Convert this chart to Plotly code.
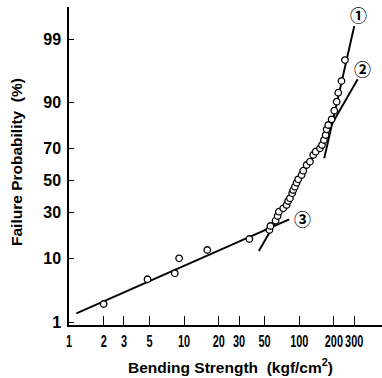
import math
from statistics import NormalDist
import plotly.graph_objects as go

# Data (bending strength in kgf/cm2, failure probability in %)
strength = [2.0, 4.81, 8.30, 9.05, 15.9, 36.9,
            55.1, 56.2, 62.3, 64.9, 66.6, 72.6, 77.7, 80.2, 83.0, 86.9,
            88.7, 91.7, 94.9, 98.0, 105.0, 108.3, 116.0, 123.9, 132.3, 138.9,
            151.4, 157.6, 164.0, 169.6, 173.1, 178.7, 191.3, 201.5, 211.5, 218.4,
            232.8, 249.7]
failure_pct = [2.12, 5.23, 6.37, 10.06, 12.69, 16.84,
               20.83, 22.76, 25.48, 28.02, 30.45, 32.43, 34.41, 36.86, 38.55, 41.73,
               43.86, 46.0, 48.62, 50.85, 53.67, 56.47, 60.13, 62.2, 66.31, 68.27,
               70.24, 72.09, 74.79, 77.34, 80.06, 81.98, 84.33, 87.49, 90.28, 92.59,
               94.93, 97.63]

line1_x = [165.0, 300.8]
line1_y = [64.3, 99.45]
line2_x = [44.6, 321.9]
line2_y = [12.34, 95.21]
line3_x = [1.16, 81.9]
line3_y = [1.45, 26.2]

label_text = ["①", "②", "③"]
label_x = [328.6, 351.0, 107.1]
label_y = [99.69, 96.76, 26.76]

x_ticks = [1, 2, 3, 5, 10, 20, 30, 50, 100, 200, 300]
y_ticks = [1, 10, 30, 50, 70, 90, 99]

nd = NormalDist()


def prob(p_list):
    return [nd.inv_cdf(p / 100.0) for p in p_list]


fig = go.Figure()
for lx, ly in [(line1_x, line1_y), (line2_x, line2_y), (line3_x, line3_y)]:
    fig.add_trace(go.Scatter(x=lx, y=prob(ly), mode="lines",
                             line=dict(color="black", width=1.9),
                             showlegend=False, hoverinfo="skip"))

fig.add_trace(go.Scatter(x=strength, y=prob(failure_pct), mode="markers",
                         marker=dict(symbol="circle", size=6.5, color="white",
                                     line=dict(color="black", width=1.3)),
                         showlegend=False))

for t, lx, ly in zip(label_text, label_x, label_y):
    fig.add_annotation(x=math.log10(lx), y=nd.inv_cdf(ly / 100.0), text=t,
                       showarrow=False, xref="x", yref="y",
                       font=dict(family="Noto Sans CJK JP", size=17, color="black",
                                 weight="bold"))

fam = "Liberation Sans, Arial"

fig.update_xaxes(type="log", range=[0, 2.719], automargin=False, tickangle=0,
                 tickvals=x_ticks, ticktext=[str(v) for v in x_ticks],
                 ticks="inside", ticklen=9, tickwidth=1.2, tickcolor="black",
                 showline=True, linecolor="black", linewidth=1.5,
                 showgrid=False, zeroline=False, ticklabelstandoff=1,
                 tickfont=dict(family=fam, size=16, color="black", weight="bold"))
fig.update_yaxes(range=[-2.375, 2.855], automargin=False,
                 tickvals=prob(y_ticks), ticktext=[str(v) for v in y_ticks],
                 ticks="inside", ticklen=5, tickwidth=1.2, tickcolor="black",
                 showline=True, linecolor="black", linewidth=1.5,
                 showgrid=False, zeroline=False,
                 tickfont=dict(family=fam, size=16, color="black", weight="bold"),
                 ticklabelstandoff=3)

L, R, T, B = 69, 0, 7, 53
W, H = 382, 378
pw, ph = W - L - R, H - T - B

title_font = dict(family=fam, size=15.5, color="black")
fig.add_annotation(text="<b>Bending Strength&nbsp;&nbsp;(kgf/cm<sup>2</sup>)</b>",
                   showarrow=False, font=title_font, xref="paper", yref="paper",
                   x=(231 - L) / pw, y=(H - B - 366) / ph,
                   xanchor="center", yanchor="middle")
fig.add_annotation(text="<b>Failure Probability&nbsp;&nbsp;(%)</b>", textangle=-90,
                   showarrow=False, font=title_font, xref="paper", yref="paper",
                   x=(16 - L) / pw, y=(H - B - 162) / ph,
                   xanchor="center", yanchor="middle")

fig.update_layout(width=W, height=H, margin=dict(l=L, r=R, t=T, b=B, autoexpand=False),
                  plot_bgcolor="white", paper_bgcolor="white")

post = """
document.body.style.margin='0';document.body.style.padding='0';
var gd = document.getElementById('{plot_id}');
function condense(){
  document.querySelectorAll('.xtick text').forEach(function(t){
    if (!t.dataset.cond){
      var w = t.getComputedTextLength();
      t.setAttribute('textLength', (w*0.68).toFixed(2));
      t.setAttribute('lengthAdjust', 'spacingAndGlyphs');
      t.dataset.cond = '1';
    }
  });
}
condense();
if (gd && gd.on) { gd.on('plotly_afterplot', condense); }
"""

fig.write_html("out.html", config={"displayModeBar": False}, post_script=post)
